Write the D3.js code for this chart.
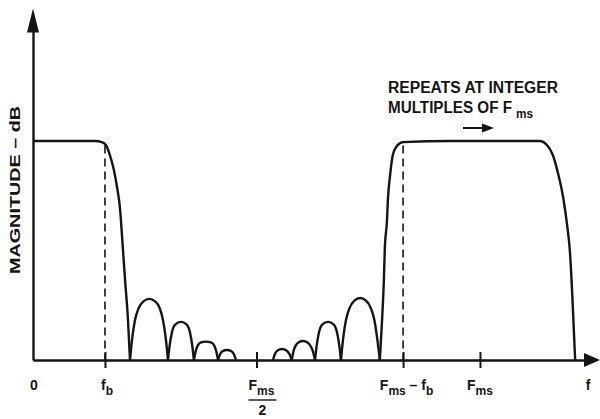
<!DOCTYPE html>
<html>
<head>
<meta charset="utf-8">
<script src="https://d3js.org/d3.v7.min.js"></script>
<style>
  body { margin: 0; background: #fff; }
  text { font-family: "Liberation Sans", Arial, sans-serif; fill: #151515; font-weight: bold; }
</style>
</head>
<body>
<script>
// frequency in units of Fms, magnitude relative to passband level
var passLeft = [[0,1],[0.06,1],[0.139,1],[0.154,0.995],[0.163,0.982],[0.172,0.936],[0.181,0.868],[0.188,0.79],[0.195,0.685],[0.199,0.571],[0.206,0.365],[0.2125,0.183],[0.217,0]];
var passRight = [[0.776,0],[0.781,0.183],[0.785,0.365],[0.787,0.502],[0.792,0.639],[0.794,0.731],[0.799,0.845],[0.805,0.936],[0.814,0.977],[0.828,0.995],[0.933,1],[1.134,1],[1.148,0.986],[1.163,0.936],[1.174,0.858],[1.186,0.744],[1.195,0.616],[1.201,0.502],[1.206,0.32],[1.210,0.137],[1.213,0]];
var lobes = [
  [[0.217,0],[0.222,0.1],[0.228,0.18],[0.236,0.235],[0.247,0.268],[0.26,0.279],[0.273,0.268],[0.284,0.235],[0.291,0.18],[0.297,0.1],[0.302,0]],
  [[0.302,0],[0.306,0.07],[0.311,0.128],[0.318,0.162],[0.331,0.174],[0.344,0.162],[0.351,0.128],[0.356,0.07],[0.360,0]],
  [[0.360,0],[0.364,0.04],[0.369,0.068],[0.376,0.08],[0.387,0.084],[0.398,0.08],[0.405,0.068],[0.410,0.04],[0.414,0]],
  [[0.414,0],[0.418,0.024],[0.424,0.04],[0.434,0.046],[0.444,0.04],[0.450,0.024],[0.454,0]],
  [[0.537,0],[0.541,0.026],[0.547,0.043],[0.557,0.05],[0.567,0.043],[0.574,0.026],[0.579,0]],
  [[0.579,0],[0.583,0.042],[0.589,0.07],[0.596,0.083],[0.604,0.087],[0.612,0.083],[0.619,0.07],[0.626,0.042],[0.631,0]],
  [[0.631,0],[0.635,0.07],[0.640,0.128],[0.647,0.162],[0.660,0.174],[0.673,0.162],[0.680,0.128],[0.685,0.07],[0.689,0]],
  [[0.689,0],[0.694,0.1],[0.700,0.18],[0.708,0.236],[0.719,0.271],[0.732,0.283],[0.745,0.271],[0.756,0.236],[0.764,0.18],[0.770,0.1],[0.776,0]]
];
var tickVals = [0.161, 0.5, 0.828, 1];
var dashVals = [0.161, 0.828];
var labelVals = [0, 0.161, 0.5, 0.828, 1, 1.242];
var labelParts = [
  [["0",0]],
  [["f",0],["b",1]],
  [["F",0],["ms",1]],
  [["F",0],["ms",1],[" \u2013 ",0],["f",0],["b",1]],
  [["F",0],["ms",1]],
  [["f",0]]
];
var fracVal = 0.5, fracDen = "2";
var yTitle = "MAGNITUDE \u2013 dB";
var note1 = "REPEATS AT INTEGER", note2 = "MULTIPLES OF F", note2sub = "ms";

var w = 600, h = 419;
var svg = d3.select("body").append("svg").attr("width", w).attr("height", h);

var x = d3.scaleLinear().domain([0, 1.235]).range([33, 585]);
var y = d3.scaleLinear().domain([0, 1.5]).range([360, 31.5]);
var ink = "#151515";

// axes
var xAxis = svg.append("g").attr("transform", "translate(0," + y(0) + ")")
  .call(d3.axisBottom(x).tickValues(tickVals).tickSize(8).tickSizeOuter(0).tickFormat(""));
xAxis.select(".domain").attr("stroke", ink).attr("stroke-width", 2.4);
xAxis.selectAll(".tick line").attr("y1", -8).attr("y2", 8).attr("stroke", ink).attr("stroke-width", 2);

var yAxis = svg.append("g").attr("transform", "translate(" + x(0) + ",0)")
  .call(d3.axisLeft(y).tickValues([]).tickSizeOuter(0));
yAxis.select(".domain").attr("stroke", ink).attr("stroke-width", 2.4);

// arrowheads
var xe = x.range()[1], y0 = y(0);
svg.append("path").attr("d", "M" + (xe - 1) + "," + (y0 - 7) + "L" + (xe + 15) + "," + y0 + "L" + (xe - 1) + "," + (y0 + 7) + "Z").attr("fill", ink);
var ye = y.range()[1], x0 = x(0);
svg.append("path").attr("d", "M" + (x0 - 6) + "," + (ye + 1) + "L" + x0 + "," + (ye - 23) + "L" + (x0 + 6) + "," + (ye + 1) + "Z").attr("fill", ink);

// dashed guides
svg.selectAll(".guide").data(dashVals).enter().append("line")
  .attr("x1", function(d){ return x(d); }).attr("x2", function(d){ return x(d); })
  .attr("y1", y(0.98)).attr("y2", y(0))
  .attr("stroke", ink).attr("stroke-width", 1.6).attr("stroke-dasharray", "8,5");

// response curve
var line = d3.line().x(function(d){ return x(d[0]); }).y(function(d){ return y(d[1]); }).curve(d3.curveMonotoneX);
svg.selectAll(".seg").data([passLeft, passRight].concat(lobes)).enter().append("path")
  .attr("d", line).attr("fill", "none").attr("stroke", ink).attr("stroke-width", 2.4).attr("stroke-linejoin", "round");

// tick labels
var offs = [1, 2, 5, 3.5, 0, 0];
labelVals.forEach(function(v, i) {
  var t = svg.append("text").attr("x", x(v) + offs[i]).attr("y", 390)
    .attr("text-anchor", "middle").style("font-size", "14px");
  var low = false;
  labelParts[i].forEach(function(p) {
    var s = t.append("tspan").text(p[0]);
    if (p[1]) { s.style("font-size", "12px").attr("dy", low ? 0 : 5); low = true; }
    else { s.attr("dy", low ? -5 : 0); low = false; }
  });
});
svg.append("line").attr("x1", x(fracVal) - 8).attr("x2", x(fracVal) + 20).attr("y1", 400).attr("y2", 400)
  .attr("stroke", ink).attr("stroke-width", 1.4);
svg.append("text").attr("x", x(fracVal) + 6).attr("y", 415).attr("text-anchor", "middle").style("font-size", "14px").text(fracDen);

// y title
svg.append("text").attr("transform", "translate(20,190) rotate(-90)").attr("text-anchor", "middle")
  .style("font-size", "14px").attr("textLength", 168).attr("lengthAdjust", "spacingAndGlyphs").text(yTitle);

// annotation
svg.append("text").attr("x", 388).attr("y", 93).style("font-size", "16px")
  .attr("textLength", 170).attr("lengthAdjust", "spacingAndGlyphs").text(note1);
svg.append("text").attr("x", 388).attr("y", 113).style("font-size", "16px")
  .attr("textLength", 124).attr("lengthAdjust", "spacingAndGlyphs").text(note2);
svg.append("text").attr("x", 516).attr("y", 118).style("font-size", "12px")
  .attr("textLength", 17).attr("lengthAdjust", "spacingAndGlyphs").text(note2sub);
svg.append("line").attr("x1", 463).attr("x2", 484).attr("y1", 128).attr("y2", 128).attr("stroke", ink).attr("stroke-width", 2);
svg.append("path").attr("d", "M482,123.5L494,128L482,132.5Z").attr("fill", ink);
</script>
</body>
</html>
